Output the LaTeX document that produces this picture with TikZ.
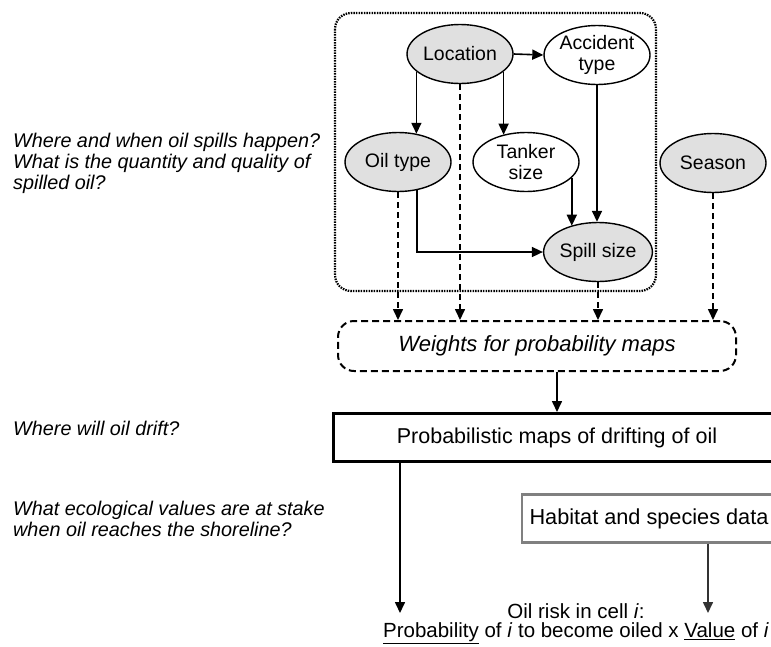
\documentclass[tikz,border=0pt]{standalone}
\usepackage{fontspec}
\setmainfont{Liberation Sans}
\usetikzlibrary{shapes.geometric}
\usetikzlibrary{positioning}
\usetikzlibrary{arrows.meta}

\begin{document}
\begin{tikzpicture}[x=1pt, y=-1pt,
	var/.style = {draw, line width=1.4pt, ellipse, minimum width=106pt, minimum height=59pt, inner sep=0pt, align=center, font=\fontsize{19.5}{20.5}\selectfont},
	obs/.style = {var, fill=black!12},
	arr/.style = {line width=1.6pt, -{Triangle[length=11pt, width=10pt]}},
	darr/.style = {arr, dash pattern=on 6pt off 4pt},
	question/.style = {anchor=north west, inner sep=0pt, align=left, font=\fontsize{19.8}{20.8}\selectfont\itshape}]
		\useasboundingbox (0, 0) rectangle (771, 646);
		\clip (0, 0) rectangle (771, 646);

		% questions on the left
		\node (q1) [question] at (13, 133) {Where and when oil spills happen?\\What is the quantity and quality of\\spilled oil?};
		\node (q2) [question] at (13, 421) {Where will oil drift?};
		\node (q3) [question] at (13, 501) {What ecological values are at stake\\when oil reaches the shoreline?};

		% spill model
		\draw [line width=2.2pt, dash pattern=on 1.5pt off 1.1pt, rounded corners=16pt] (335, 13) rectangle (656, 291);
		\node (loc) [obs] at (460, 54) {Location};
		\node (acc) [var] at (597, 55) {Accident\\type};
		\node (oil) [obs] at (398, 162) {Oil type};
		\node (tank) [var] at (526, 162) {Tanker\\size};
		\node (spill) [obs] at (598, 252) {Spill size};
		\node (season) [obs] at (713, 163) {Season};

		\draw [arr] (loc.east) -- (acc.west);
		\draw [arr] (loc.202) -- (loc.202 |- oil.56);
		\draw [arr] (loc.338) -- (loc.338 |- tank.130);
		\draw [arr] (acc.south) -- (acc.south |- spill.north);
		\draw [arr] (tank.-19) -- (tank.-19 |- spill.136);
		\draw [arr] (oil.-56) |- (spill.west);

		% weights and maps
		\node (wts) [draw, line width=2pt, dash pattern=on 7pt off 4pt, rounded corners=16pt, minimum width=398pt, minimum height=50pt, font=\fontsize{22}{24}\selectfont\itshape] at (537, 346) {Weights for probability maps};
		\draw [darr] (oil.south) -- (oil.south |- wts.north);
		\draw [darr] (loc.south) -- (loc.south |- wts.north);
		\draw [darr] (spill.south) -- (spill.south |- wts.north);
		\draw [darr] (season.south) -- (season.south |- wts.north);

		\node (prob) [draw, line width=3pt, minimum width=447pt, minimum height=48pt, font=\fontsize{21.5}{24}\selectfont] at (557, 437.5) {Probabilistic maps of drifting of oil};
		\draw [arr] (prob.north |- wts.south) -- (prob.north);

		\node (hab) [draw=black!50, line width=2.5pt, minimum width=254pt, minimum height=48pt, font=\fontsize{21.7}{24}\selectfont] at (649, 518.5) {Habitat and species data};

		% risk
		\node (risk) [anchor=north, inner sep=0pt, align=center, font=\fontsize{20.5}{19.5}\selectfont] at (576, 603) {Oil risk in cell \textit{i}:\\\underline{Probability} of \textit{i} to become oiled x \underline{Value} of \textit{i}};
		\coordinate (pend) at (400, 613);
		\coordinate (hend) at (708, 613);
		\draw [arr] (prob.south -| pend) -- (pend);
		\draw [arr, black!80] (hab.south -| hend) -- (hend);
	\end{tikzpicture}
\end{document}
